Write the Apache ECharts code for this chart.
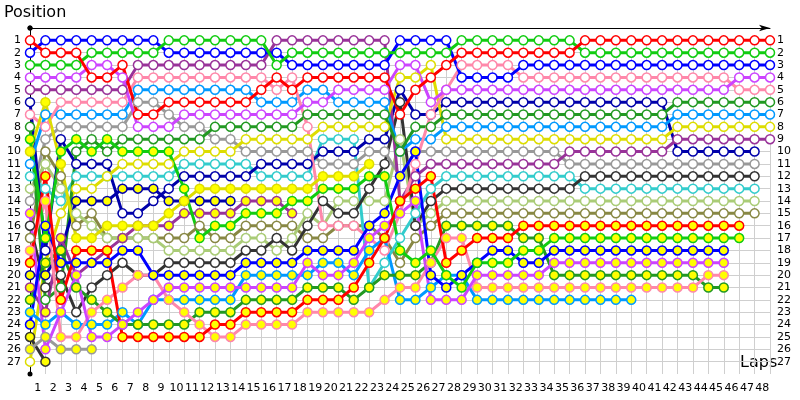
<!DOCTYPE html>
<html>
<head>
<meta charset="utf-8">
<script src="https://cdn.jsdelivr.net/npm/echarts@6/dist/echarts.min.js"></script>
<style>
  html, body { margin: 0; padding: 0; background: #fff; }
  #chart { width: 800px; height: 400px; }
</style>
</head>
<body>
<div id="chart"></div>
<script>
// laps 0..48, position after each lap (null = out)
const laps = Array.from({ length: 48 }, (_, i) => String(i + 1))

const redA = [1,2,2,2,4,4,3,7,7,6, 6,6,6,6,6,5,4,5,4,4, 4,4,4,4,7,5,4,3,2,2, 2,2,2,2,2,2,1,1,1,1, 1,1,1,1,1,1,1,1,1]
const greenA = [3,3,3,3,2,2,2,2,2,1, 1,1,1,1,1,1,3,2,2,2, 2,2,2,2,2,2,2,2,1,1, 1,1,1,1,1,1,2,2,2,2, 2,2,2,2,2,2,2,2,2]
const blueA = [2,1,1,1,1,1,1,1,1,2, 2,2,2,2,2,2,2,3,3,3, 3,3,3,3,1,1,1,1,4,4, 4,4,3,3,3,3,3,3,3,3, 3,3,3,3,3,3,3,3,3]
const violetA = [4,4,4,4,3,3,4,8,8,8, 7,7,7,7,7,7,7,7,6,6, 5,5,5,5,3,3,6,5,5,5, 5,5,5,5,5,5,5,5,5,5, 5,5,5,5,5,5,4,4,4]
const pinkA = [7,8,6,6,6,6,6,4,4,4, 4,4,4,4,4,4,5,4,8,16, 16,16,17,18,15,11,7,5,3,3, 3,3,4,4,4,4,4,4,4,4, 4,4,4,4,4,4,5,5,5]
const dkgreenA = [8,22,21,10,9,10,9,9,9,9, 9,9,8,8,8,8,8,8,7,7, 7,7,7,7,10,8,8,7,7,7, 7,7,7,7,7,7,7,7,7,7, 7,7,6,6,6,6,6,6,6]
const skyA = [11,7,7,7,7,7,7,5,5,5, 5,5,5,5,5,6,6,6,5,5, 6,6,6,6,10,9,9,8,8,8, 8,8,8,8,8,8,8,8,8,8, 8,8,7,7,7,7,7,7,7]
const yellowA = [27,19,15,13,13,12,11,11,11,11, 10,10,10,10,9,9,9,9,9,8, 8,8,8,8,4,4,3,9,9,9, 9,9,9,9,9,9,9,9,9,9, 9,9,8,8,8,8,8,8,8]
const purpleA = [5,5,5,5,5,5,5,3,3,3, 3,3,3,3,3,3,1,1,1,1, 1,1,1,1,14,12,11,11,11,11, 11,11,11,11,11,10,10,10,10,10, 10,10,9,9,9,9,9,9,9]
const navyA = [6,18,9,11,11,11,15,15,14,13, 12,12,12,12,12,11,11,11,11,10, 10,10,9,9,5,7,7,6,6,6, 6,6,6,6,6,6,6,6,6,6, 6,6,10,10,10,10,10,10,null]
const grayA = [14,9,8,8,8,8,8,6,6,7, 8,8,9,9,10,10,10,10,10,11, 11,11,10,10,12,10,10,10,10,10, 10,10,10,10,10,11,11,11,11,11, 11,11,11,11,11,11,11,11,null]
const dkgrayA = [16,21,20,23,21,20,19,20,20,19, 19,19,19,19,18,18,17,18,16,14, 15,15,13,11,6,16,14,13,13,13, 13,13,13,13,13,13,12,12,12,12, 12,12,12,12,12,12,12,12,null]
const cyanA = [12,13,14,12,12,12,12,12,12,12, 11,11,11,11,11,12,12,12,12,9, 9,9,21,19,17,15,13,12,12,12, 12,12,12,12,12,12,13,13,13,13, 13,13,13,13,13,13,13,13,null]
const ltoliveA = [13,11,13,15,16,17,17,17,17,18, 18,18,18,18,17,17,18,17,15,16, 14,14,14,14,9,16,15,14,14,14, 14,14,14,14,14,14,14,14,14,14, 14,14,14,14,14,14,14,14,null]
const oliveA = [17,10,12,16,15,17,17,17,17,17, 17,16,17,17,16,16,16,16,17,17, 16,16,16,17,19,17,16,15,15,15, 15,15,15,15,15,15,15,15,15,15, 15,15,15,15,15,15,15,15,null]

const redB = [19,12,22,18,18,18,25,25,25,25, 25,25,24,24,23,23,23,23,22,22, 22,21,19,17,14,13,12,19,18,17, 17,17,16,16,16,16,16,16,16,16, 16,16,16,16,16,16,16]
const greenB = [9,17,10,9,10,9,10,10,10,10, 13,17,16,16,15,15,15,14,14,13, 13,13,12,12,18,19,18,20,21,19, 19,19,18,18,17,17,17,17,17,17, 17,17,17,17,17,17,17]
const blueB = [24,16,19,19,19,19,18,18,20,20, 20,20,20,20,19,19,19,19,18,18, 18,18,16,15,12,10,20,21,20,19, 18,18,19,19,18,18,18,18,18,18, 18,18,18,18,18,18]
const violetB = [15,26,23,20,25,25,24,23,22,21, 21,21,21,21,21,21,21,21,19,20, 20,19,17,16,15,14,22,22,22,20, 20,20,20,20,19,19,19,19,19,19, 19,19,19,19,19,19]
const pinkB = [18,14,25,25,23,22,21,20,20,22, 23,24,25,25,24,24,24,24,23,23, 23,23,23,22,21,21,19,17,17,21, 21,21,21,21,21,21,21,21,21,21, 21,21,21,21,20,20]
const dkgreenB = [22,19,18,21,22,23,24,24,24,24, 24,23,23,23,22,22,22,22,21,21, 21,22,21,20,20,20,19,16,16,16, 16,16,17,17,20,20,20,20,20,20, 20,20,20,20,21,21]
const skyB = [23,24,23,24,24,24,23,24,22,22, 22,22,22,22,20,20,20,20,20,19, 19,20,18,17,22,22,21,20,20,22, 22,22,22,22,22,22,22,22,22,22]
const yellowB = [10,6,11,17,17,16,16,16,16,15, 14,13,13,13,13,13,13,13,13,12, 12,12,11]
const purpleB = [21,23,17,20,19,18,17,16,16,16, 15,15,15,15,14,14,14,15]
const navyB = [20,20,18,14,14,14,13,13,13,14, 14,14,14,14]
const grayB = [26,25,26,26,26]
const dkgrayB = [25,27]

const WHITE = '#ffffff'
const YELLOW = '#ffff00'

const cars = [
  [oliveA, '#888844', WHITE], [ltoliveA, '#aacc77', WHITE], [cyanA, '#33cccc', WHITE],
  [dkgrayA, '#333333', WHITE], [grayA, '#999999', WHITE], [navyA, '#0000aa', WHITE],
  [purpleA, '#993399', WHITE], [yellowA, '#dddd00', WHITE], [skyA, '#0099ff', WHITE],
  [dkgreenA, '#229922', WHITE], [pinkA, '#ff88aa', WHITE], [violetA, '#cc44ff', WHITE],
  [blueA, '#0000ff', WHITE], [greenA, '#11cc11', WHITE], [redA, '#ff0000', WHITE],
  [dkgrayB, '#333333', YELLOW], [grayB, '#999999', YELLOW], [navyB, '#0000aa', YELLOW],
  [purpleB, '#993399', YELLOW], [yellowB, '#dddd00', YELLOW], [skyB, '#0099ff', YELLOW],
  [dkgreenB, '#229922', YELLOW], [pinkB, '#ff88aa', YELLOW], [violetB, '#cc44ff', YELLOW],
  [blueB, '#0000ff', YELLOW], [greenB, '#11cc11', YELLOW], [redB, '#ff0000', YELLOW]
]

const gridColor = '#cfcfcf'
const font = 'DejaVu Sans'
const posLabel = v => (v >= 1 && v <= 27 ? v : '')

let ySplitColors = []
for (let i = 0; i <= 28; i++) ySplitColors.push(i >= 1 && i <= 27 ? gridColor : 'rgba(0,0,0,0)')

let mychart = echarts.init(document.getElementById('chart'))
let option = {
  animation: false,
  grid: [
    { left: 30, right: 30, top: 28, bottom: 26 },
    // only carries the vertical lap lines, which start at row 1
    { left: 30, right: 30, top: 37, bottom: 26 }
  ],
  graphic: [
    { type: 'text', left: 4, top: 5, style: { text: 'Position', font: '16px "DejaVu Sans"', fill: '#000' } },
    { type: 'text', left: 740, top: 355, style: { text: 'Laps', font: '16px "DejaVu Sans"', fill: '#000' } }
  ],
  xAxis: [
    {
      type: 'value', min: 0, max: 48, interval: 1, gridIndex: 0,
      axisLine: { lineStyle: { color: '#000', width: 1 }, symbol: ['circle', 'arrow'], symbolSize: [5, 11] },
      axisTick: { show: false },
      axisLabel: { show: false },
      splitLine: { show: false },
      z: 3
    },
    {
      type: 'category', data: laps, boundaryGap: true, position: 'bottom', gridIndex: 0,
      axisLine: { show: false }, axisTick: { show: false },
      axisLabel: { color: '#000', fontSize: 11, fontFamily: font, margin: 9, interval: 0 },
      splitLine: { show: false }
    },
    {
      type: 'value', min: 0, max: 48, interval: 1, gridIndex: 1,
      axisLine: { show: false }, axisTick: { show: false }, axisLabel: { show: false },
      splitLine: { show: true, lineStyle: { color: gridColor, width: 1 } }
    }
  ],
  yAxis: [
    {
      type: 'value', inverse: true, min: 0, max: 28, interval: 1, gridIndex: 0,
      axisLine: { show: true, lineStyle: { color: '#000', width: 1 }, symbol: ['circle', 'circle'], symbolSize: [5, 5] },
      axisTick: { show: false },
      axisLabel: { color: '#000', fontSize: 11, fontFamily: font, margin: 9, formatter: posLabel },
      splitLine: { show: true, showMinLine: false, showMaxLine: false, lineStyle: { color: ySplitColors, width: 1 } },
      z: 3
    },
    {
      type: 'value', inverse: true, min: 0, max: 28, interval: 1, position: 'right', gridIndex: 0,
      axisLine: { show: false }, axisTick: { show: false },
      axisLabel: { color: '#000', fontSize: 11, fontFamily: font, margin: 7, formatter: posLabel },
      splitLine: { show: false }
    },
    {
      type: 'value', min: 0, max: 1, gridIndex: 1,
      axisLine: { show: false }, axisTick: { show: false }, axisLabel: { show: false },
      splitLine: { show: false }
    }
  ],
  series: cars.map(([pos, color, fill]) => ({
    type: 'line',
    xAxisIndex: 0,
    yAxisIndex: 0,
    data: pos.map((p, lap) => [lap, p]).filter(d => d[1] != null),
    symbol: 'circle',
    symbolSize: 9,
    lineStyle: { color: color, width: 3 },
    itemStyle: { color: fill, borderColor: color, borderWidth: 1.5 },
    emphasis: { disabled: true }
  }))
}
mychart.setOption(option)
</script>
</body>
</html>
